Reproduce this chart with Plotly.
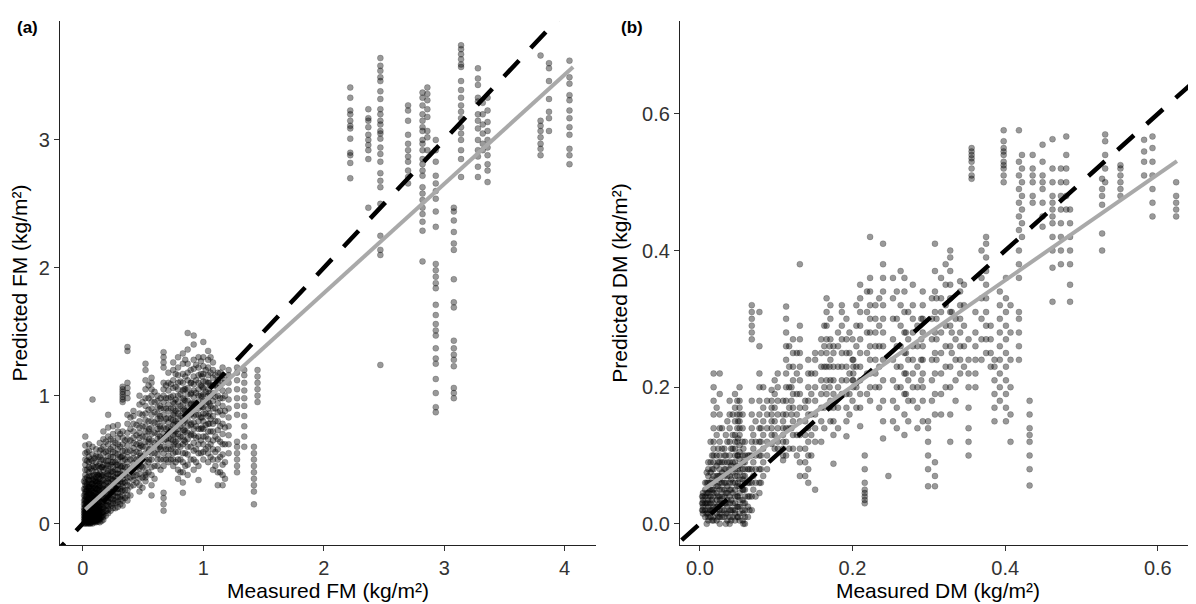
import plotly.graph_objects as go

# ---------------- Panel (a): fresh mass ----------------
fm_stripe_x = [0.02, 0.05, 0.08, 0.11, 0.14, 0.17, 0.21, 0.25, 0.29, 0.33, 0.37, 0.42, 0.47,
               0.52, 0.57, 0.62, 0.67, 0.71, 0.75, 0.79, 0.83, 0.87, 0.92, 0.96, 1.00, 1.04,
               1.08, 1.12, 1.16, 1.21, 1.28, 1.34, 1.42, 1.45,
               2.22, 2.37, 2.47, 2.70, 2.82, 2.86, 2.93, 3.08, 3.14, 3.28, 3.32, 3.36,
               3.80, 3.87, 4.04]
fm_stripe_y = [
    [0.00, 0.01, 0.02, 0.03, 0.03, 0.04, 0.05, 0.05, 0.06, 0.07, 0.08, 0.09, 0.10, 0.11, 0.13, 0.14,
     0.16, 0.18, 0.19, 0.21, 0.23, 0.25, 0.27, 0.30, 0.32, 0.35, 0.38, 0.42, 0.46, 0.50, 0.55, 0.61, 0.68],
    [0.00, 0.01, 0.02, 0.03, 0.04, 0.04, 0.05, 0.06, 0.07, 0.08, 0.09, 0.10, 0.12, 0.13, 0.15, 0.17,
     0.19, 0.22, 0.24, 0.26, 0.29, 0.31, 0.34, 0.37, 0.40, 0.44, 0.48, 0.52, 0.57, 0.62],
    [0.00, 0.02, 0.03, 0.04, 0.05, 0.06, 0.07, 0.08, 0.10, 0.11, 0.13, 0.15, 0.17, 0.20, 0.22, 0.25,
     0.28, 0.31, 0.34, 0.37, 0.41, 0.45, 0.49, 0.54, 0.60, 0.97],
    [0.01, 0.02, 0.03, 0.05, 0.06, 0.07, 0.09, 0.10, 0.12, 0.14, 0.16, 0.19, 0.21, 0.24, 0.27, 0.30,
     0.33, 0.36, 0.40, 0.44, 0.48, 0.53, 0.58],
    [0.01, 0.03, 0.04, 0.06, 0.08, 0.10, 0.12, 0.14, 0.17, 0.20, 0.23, 0.26, 0.29, 0.32, 0.35, 0.39,
     0.43, 0.47, 0.52, 0.57, 0.63],
    [0.03, 0.05, 0.07, 0.09, 0.12, 0.14, 0.17, 0.20, 0.23, 0.27, 0.30, 0.34, 0.38, 0.42, 0.46, 0.50,
     0.55, 0.60, 0.66, 0.72],
    [0.08, 0.11, 0.14, 0.17, 0.20, 0.23, 0.26, 0.29, 0.32, 0.35, 0.38, 0.41, 0.45, 0.49, 0.53, 0.57,
     0.62, 0.68, 0.75, 0.85],
    [0.12, 0.16, 0.19, 0.22, 0.25, 0.28, 0.31, 0.34, 0.37, 0.40, 0.44, 0.48, 0.52, 0.56, 0.60, 0.65,
     0.70, 0.76],
    [0.13, 0.17, 0.21, 0.24, 0.27, 0.30, 0.33, 0.36, 0.39, 0.42, 0.46, 0.50, 0.54, 0.58, 0.62, 0.67,
     0.72, 0.77],
    [0.14, 0.18, 0.22, 0.26, 0.29, 0.32, 0.35, 0.38, 0.41, 0.45, 0.49, 0.53, 0.57, 0.62, 0.67, 0.72,
     0.95, 0.97, 0.99, 1.01, 1.03, 1.05, 1.07],
    [0.18, 0.22, 0.26, 0.30, 0.33, 0.36, 0.40, 0.44, 0.48, 0.52, 0.56, 0.61, 0.66, 0.71, 0.78, 0.85,
     0.98, 1.02, 1.06, 1.10, 1.35, 1.38],
    [0.30, 0.34, 0.37, 0.40, 0.43, 0.47, 0.51, 0.55, 0.59, 0.63, 0.67, 0.72, 0.78, 0.84, 0.88],
    [0.25, 0.30, 0.35, 0.39, 0.43, 0.47, 0.51, 0.55, 0.59, 0.63, 0.67, 0.71, 0.75, 0.80, 0.86, 0.93, 1.00],
    [0.33, 0.36, 0.38, 0.40, 0.45, 0.50, 0.55, 0.60, 0.64, 0.68, 0.72, 0.76, 0.81, 0.86, 0.92, 0.98,
     1.05, 1.12, 1.20, 1.25],
    [0.22, 0.30, 0.38, 0.44, 0.50, 0.55, 0.60, 0.65, 0.70, 0.75, 0.80, 0.85, 0.90, 0.95, 1.00, 1.05,
     1.10, 1.14],
    [0.45, 0.50, 0.54, 0.58, 0.62, 0.66, 0.70, 0.74, 0.78, 0.82, 0.86, 0.91, 0.96, 1.00],
    [0.10, 0.15, 0.20, 0.24, 0.45, 0.50, 0.55, 0.60, 0.65, 0.70, 0.75, 0.80, 0.85, 0.90, 0.95, 1.00,
     1.05, 1.10, 1.22, 1.26, 1.30, 1.34],
    [0.48, 0.53, 0.58, 0.63, 0.67, 0.71, 0.75, 0.79, 0.83, 0.88, 0.93, 0.98, 1.04, 1.10, 1.18],
    [0.45, 0.50, 0.55, 0.60, 0.65, 0.69, 0.73, 0.77, 0.81, 0.85, 0.90, 0.95, 1.00, 1.06, 1.12, 1.20, 1.26],
    [0.35, 0.42, 0.50, 0.56, 0.61, 0.66, 0.70, 0.74, 0.78, 0.82, 0.86, 0.90, 0.95, 1.00, 1.05, 1.10,
     1.16, 1.22, 1.30],
    [0.24, 0.32, 0.40, 0.48, 0.55, 0.62, 0.68, 0.73, 0.78, 0.83, 0.88, 0.93, 0.98, 1.04, 1.10, 1.17,
     1.25, 1.33],
    [0.38, 0.46, 0.54, 0.60, 0.66, 0.71, 0.76, 0.81, 0.86, 0.91, 0.96, 1.01, 1.06, 1.12, 1.18, 1.25,
     1.36, 1.49],
    [0.42, 0.50, 0.57, 0.63, 0.69, 0.74, 0.79, 0.84, 0.89, 0.94, 0.99, 1.04, 1.09, 1.15, 1.21, 1.28,
     1.40, 1.47],
    [0.34, 0.45, 0.55, 0.62, 0.68, 0.74, 0.80, 0.85, 0.90, 0.95, 1.00, 1.05, 1.10, 1.16, 1.22, 1.30],
    [0.50, 0.56, 0.62, 0.68, 0.74, 0.80, 0.86, 0.91, 0.96, 1.01, 1.06, 1.11, 1.17, 1.23, 1.30, 1.42],
    [0.48, 0.55, 0.60, 0.66, 0.72, 0.78, 0.84, 0.90, 0.95, 1.00, 1.05, 1.10, 1.16, 1.22, 1.28, 1.35],
    [0.42, 0.50, 0.58, 0.65, 0.72, 0.78, 0.84, 0.90, 0.96, 1.02, 1.08, 1.14, 1.20, 1.26],
    [0.30, 0.40, 0.50, 0.58, 0.66, 0.73, 0.80, 0.87, 0.94, 1.00, 1.06, 1.12, 1.18],
    [0.30, 0.38, 0.46, 0.54, 0.62, 0.70, 0.78, 0.85, 0.92, 0.98, 1.04, 1.10, 1.16, 1.22],
    [0.55, 0.62, 0.69, 0.76, 0.83, 0.90, 0.97, 1.04, 1.10, 1.16, 1.20],
    [0.40, 0.45, 0.50, 0.55, 0.60, 0.64, 0.85, 0.92, 0.98, 1.05, 1.12, 1.18, 1.22],
    [0.60, 0.68, 0.76, 0.84, 0.92, 0.98, 1.04, 1.10, 1.16, 1.20],
    [0.15, 0.25, 0.30, 0.35, 0.40, 0.45, 0.50, 0.55, 0.60],
    [0.95, 1.00, 1.05, 1.10, 1.15, 1.20],
    [3.41, 3.33, 3.23, 3.20, 3.15, 3.11, 3.09, 3.01, 2.90, 2.88, 2.82, 2.70],
    [3.24, 3.17, 3.15, 3.10, 3.04, 3.00, 2.96, 2.92, 2.85, 2.47],
    [3.64, 3.58, 3.54, 3.49, 3.46, 3.38, 3.32, 3.24, 3.20, 3.15, 3.12, 3.07, 3.05, 3.01, 2.94, 2.89,
     2.83, 2.74, 2.68, 2.63, 2.50, 2.25, 2.14, 2.10, 1.24],
    [3.27, 3.23, 3.15, 3.04, 2.97, 2.92, 2.87, 2.83, 2.76, 2.71, 2.66],
    [3.37, 3.33, 3.27, 3.20, 3.15, 3.10, 3.07, 3.00, 2.97, 2.92, 2.85, 2.81, 2.76, 2.72, 2.63, 2.58,
     2.53, 2.47, 2.42, 2.36, 2.29, 2.05],
    [3.41, 3.36, 3.31, 3.24, 3.18, 3.07, 3.02, 2.92],
    [3.00, 2.92, 2.83, 2.72, 2.66, 2.60, 2.54, 2.44, 2.32, 2.03, 1.98, 1.93, 1.88, 1.84, 1.71, 1.63,
     1.56, 1.51, 1.47, 1.37, 1.29, 1.25, 1.13, 1.02, 0.91, 0.87],
    [2.47, 2.44, 2.37, 2.28, 2.19, 2.14, 1.91, 1.73, 1.69, 1.43, 1.37, 1.32, 1.28, 1.23, 1.06, 1.02, 0.98],
    [3.74, 3.71, 3.67, 3.63, 3.59, 3.57, 3.46, 3.39, 3.33, 3.27, 3.22, 3.17, 3.10, 3.05, 3.00, 2.92,
     2.85, 2.71],
    [3.56, 3.48, 3.43, 3.33, 3.30, 3.20, 3.15, 3.09, 3.00, 2.92, 2.87, 2.79, 2.71],
    [3.29, 3.20, 3.12, 3.05, 2.97, 2.92],
    [3.33, 3.23, 3.14, 3.07, 3.00, 2.94, 2.88, 2.81, 2.76, 2.67],
    [3.66, 3.15, 3.11, 3.07, 3.02, 2.97, 2.93, 2.88],
    [3.60, 3.56, 3.46, 3.32, 3.22, 3.17, 3.07],
    [3.62, 3.49, 3.44, 3.35, 3.31, 3.23, 3.17, 3.10, 3.04, 2.93, 2.88, 2.81],
]
# additional stripes read between the ones above in the dense low range
fm_stripe2_x = [0.035, 0.065, 0.095, 0.125, 0.155, 0.19, 0.23, 0.27, 0.31, 0.35, 0.395, 0.445,
                0.495, 0.545, 0.595, 0.645, 0.69, 0.73, 0.77, 0.81, 0.85, 0.895, 0.94, 0.98,
                1.02, 1.06, 1.10, 1.14, 1.18]
fm_stripe2_y = [
    [0.00, 0.015, 0.025, 0.035, 0.045, 0.055, 0.065, 0.075, 0.085, 0.10, 0.12, 0.15, 0.18, 0.22, 0.26,
     0.31, 0.36, 0.42, 0.49, 0.56],
    [0.005, 0.015, 0.03, 0.045, 0.06, 0.075, 0.09, 0.11, 0.13, 0.16, 0.19, 0.23, 0.27, 0.32, 0.37, 0.43, 0.50],
    [0.01, 0.025, 0.04, 0.055, 0.07, 0.09, 0.11, 0.14, 0.17, 0.20, 0.24, 0.28, 0.33, 0.38, 0.44, 0.51],
    [0.015, 0.035, 0.055, 0.075, 0.10, 0.13, 0.16, 0.20, 0.24, 0.28, 0.33, 0.38, 0.45, 0.52],
    [0.02, 0.05, 0.08, 0.11, 0.15, 0.19, 0.23, 0.28, 0.33, 0.38, 0.44, 0.50, 0.58],
    [0.06, 0.10, 0.14, 0.18, 0.22, 0.27, 0.32, 0.37, 0.43, 0.49, 0.56, 0.64],
    [0.10, 0.15, 0.20, 0.25, 0.30, 0.35, 0.40, 0.46, 0.52, 0.58, 0.66],
    [0.12, 0.18, 0.24, 0.30, 0.36, 0.42, 0.48, 0.55, 0.63],
    [0.15, 0.21, 0.27, 0.33, 0.39, 0.45, 0.52, 0.60, 0.70],
    [0.20, 0.26, 0.32, 0.38, 0.44, 0.50, 0.57, 0.65],
    [0.22, 0.29, 0.36, 0.43, 0.50, 0.57, 0.65, 0.74, 0.83],
    [0.32, 0.38, 0.44, 0.50, 0.56, 0.62, 0.69, 0.77],
    [0.28, 0.36, 0.44, 0.52, 0.60, 0.68, 0.76, 0.85, 0.95],
    [0.40, 0.48, 0.56, 0.64, 0.72, 0.80, 0.89, 0.98, 1.08],
    [0.35, 0.45, 0.55, 0.63, 0.71, 0.79, 0.87, 0.95, 1.03],
    [0.42, 0.50, 0.58, 0.66, 0.74, 0.82, 0.90, 0.98],
    [0.50, 0.58, 0.66, 0.74, 0.82, 0.90, 0.98, 1.08],
    [0.50, 0.58, 0.66, 0.74, 0.82, 0.90, 0.99, 1.09],
    [0.48, 0.56, 0.64, 0.72, 0.80, 0.88, 0.97, 1.07, 1.17],
    [0.40, 0.50, 0.60, 0.68, 0.76, 0.84, 0.92, 1.01, 1.11],
    [0.45, 0.55, 0.64, 0.72, 0.80, 0.88, 0.96, 1.05, 1.15, 1.28],
    [0.50, 0.60, 0.69, 0.77, 0.85, 0.93, 1.01, 1.10, 1.20],
    [0.48, 0.58, 0.67, 0.76, 0.85, 0.94, 1.02, 1.12, 1.24],
    [0.55, 0.65, 0.74, 0.83, 0.92, 1.00, 1.08, 1.17, 1.27],
    [0.58, 0.68, 0.77, 0.86, 0.95, 1.03, 1.11, 1.20],
    [0.52, 0.62, 0.72, 0.82, 0.92, 1.00, 1.08, 1.18, 1.30],
    [0.45, 0.56, 0.68, 0.80, 0.90, 0.99, 1.08, 1.16],
    [0.40, 0.52, 0.64, 0.76, 0.88, 0.98, 1.08, 1.18],
    [0.35, 0.48, 0.62, 0.75, 0.88, 1.00, 1.12],
]
# further points where the reference cloud is solid black
fm_stripe3_x = [0.01, 0.03, 0.045, 0.06, 0.075, 0.09, 0.105, 0.12, 0.135, 0.16, 0.20, 0.24, 0.28,
                0.32, 0.48, 0.55, 0.64, 0.76, 0.84, 0.90, 0.99, 1.05]
fm_stripe3_y = [
    [0.00, 0.02, 0.04, 0.06, 0.08, 0.10, 0.12, 0.15, 0.18, 0.22, 0.27, 0.33],
    [0.005, 0.025, 0.045, 0.065, 0.085, 0.11, 0.14, 0.17, 0.21, 0.25, 0.29],
    [0.01, 0.03, 0.05, 0.07, 0.09, 0.12, 0.15, 0.19, 0.23, 0.28, 0.34],
    [0.00, 0.02, 0.04, 0.06, 0.08, 0.10, 0.13, 0.16, 0.20, 0.24, 0.29],
    [0.01, 0.03, 0.05, 0.07, 0.09, 0.12, 0.15, 0.18, 0.22, 0.26, 0.31],
    [0.02, 0.04, 0.06, 0.08, 0.10, 0.13, 0.16, 0.20, 0.24, 0.29, 0.35],
    [0.02, 0.04, 0.06, 0.09, 0.12, 0.15, 0.19, 0.23, 0.28, 0.33],
    [0.03, 0.05, 0.08, 0.11, 0.14, 0.18, 0.22, 0.27, 0.32, 0.38],
    [0.04, 0.07, 0.10, 0.13, 0.17, 0.21, 0.26, 0.31, 0.37],
    [0.06, 0.09, 0.13, 0.17, 0.21, 0.26, 0.31, 0.37, 0.44],
    [0.10, 0.14, 0.18, 0.23, 0.28, 0.33, 0.39, 0.46],
    [0.14, 0.19, 0.24, 0.29, 0.35, 0.41, 0.48],
    [0.16, 0.21, 0.27, 0.33, 0.39, 0.46],
    [0.19, 0.25, 0.31, 0.37, 0.44, 0.52],
    [0.45, 0.53, 0.61],
    [0.50, 0.58, 0.66, 0.74],
    [0.60, 0.68, 0.76, 0.84, 0.92],
    [0.62, 0.70, 0.78, 0.86, 0.94],
    [0.65, 0.73, 0.81, 0.89, 0.97, 1.05],
    [0.70, 0.78, 0.86, 0.94, 1.02, 1.10],
    [0.75, 0.83, 0.91, 0.99, 1.07, 1.15],
    [0.78, 0.86, 0.94, 1.02, 1.10],
]
fm_fit_x = [0.02, 4.07]
fm_fit_y = [0.11, 3.57]
fm_one_to_one = [-0.5, 4.5]

# ---------------- Panel (b): dry mass ----------------
dm_stripe_x = [0.004, 0.011, 0.018, 0.026, 0.032, 0.039, 0.046, 0.052, 0.059, 0.068, 0.078, 0.083,
               0.094, 0.102, 0.109, 0.113, 0.122, 0.131, 0.138, 0.142, 0.151, 0.159, 0.166, 0.175,
               0.186, 0.192, 0.201, 0.210, 0.216, 0.223, 0.230, 0.240, 0.247, 0.253, 0.268, 0.279,
               0.292, 0.299, 0.308, 0.316, 0.328, 0.341, 0.352, 0.356, 0.361, 0.375, 0.386, 0.393,
               0.398, 0.401, 0.418, 0.422, 0.432, 0.436, 0.449, 0.462, 0.473, 0.480, 0.485, 0.527,
               0.531, 0.551, 0.582, 0.593, 0.624]
dm_stripe_y = [
    [0.015, 0.02, 0.025, 0.03, 0.035, 0.04, 0.045],
    [0.005, 0.01, 0.015, 0.02, 0.025, 0.03, 0.035, 0.04, 0.045, 0.05, 0.06, 0.07, 0.08, 0.09],
    [0.005, 0.01, 0.02, 0.025, 0.03, 0.04, 0.045, 0.05, 0.06, 0.07, 0.08, 0.09, 0.10, 0.11, 0.12,
     0.14, 0.16, 0.18, 0.20, 0.22],
    [0.00, 0.01, 0.015, 0.02, 0.03, 0.035, 0.04, 0.05, 0.06, 0.065, 0.07, 0.08, 0.09, 0.10, 0.12,
     0.14, 0.16, 0.19, 0.22],
    [0.01, 0.02, 0.03, 0.04, 0.05, 0.06, 0.07, 0.08, 0.09, 0.10, 0.11],
    [0.00, 0.01, 0.02, 0.03, 0.04, 0.05, 0.06, 0.07, 0.08, 0.09, 0.10, 0.12, 0.14, 0.16, 0.18],
    [0.005, 0.015, 0.02, 0.03, 0.04, 0.05, 0.06, 0.07, 0.08, 0.09, 0.10, 0.11, 0.12, 0.13, 0.15, 0.17, 0.19],
    [0.005, 0.015, 0.025, 0.035, 0.045, 0.055, 0.065, 0.075, 0.085, 0.095, 0.105, 0.115, 0.13, 0.14,
     0.15, 0.16, 0.17, 0.18, 0.20],
    [0.00, 0.01, 0.02, 0.03, 0.04, 0.05, 0.06, 0.07, 0.08, 0.09, 0.10, 0.12],
    [0.02, 0.04, 0.06, 0.08, 0.10, 0.12, 0.14, 0.16, 0.18, 0.27, 0.28, 0.29, 0.30, 0.31, 0.32],
    [0.045, 0.06, 0.08, 0.10, 0.12, 0.14, 0.16, 0.18, 0.20, 0.22, 0.26, 0.31],
    [0.07, 0.09, 0.11, 0.13, 0.15, 0.17, 0.20],
    [0.117, 0.13, 0.14, 0.15, 0.16, 0.17, 0.18, 0.196],
    [0.11, 0.12, 0.14, 0.16, 0.18, 0.20, 0.22],
    [0.093, 0.10, 0.11, 0.12, 0.13, 0.14, 0.15, 0.16, 0.18],
    [0.10, 0.12, 0.14, 0.16, 0.18, 0.20, 0.22, 0.24, 0.26, 0.28, 0.30, 0.318],
    [0.11, 0.13, 0.15, 0.17, 0.19, 0.21, 0.23, 0.25, 0.27],
    [0.07, 0.09, 0.11, 0.13, 0.15, 0.17, 0.19, 0.21, 0.23, 0.25, 0.27, 0.29, 0.38],
    [0.07, 0.09, 0.11, 0.13, 0.15, 0.17, 0.18],
    [0.06, 0.08, 0.10, 0.12, 0.14, 0.16, 0.18, 0.20, 0.22, 0.24],
    [0.05, 0.12, 0.14, 0.16, 0.18, 0.20, 0.22, 0.24, 0.25],
    [0.12, 0.15, 0.17, 0.19, 0.21, 0.23, 0.25, 0.27],
    [0.19, 0.21, 0.23, 0.25, 0.27, 0.29, 0.31, 0.33],
    [0.088, 0.13, 0.15, 0.17, 0.19, 0.21, 0.23, 0.25, 0.26],
    [0.19, 0.21, 0.23, 0.25, 0.27, 0.29, 0.31, 0.32],
    [0.128, 0.15, 0.17, 0.19, 0.21, 0.23, 0.25, 0.27, 0.30],
    [0.20, 0.21, 0.22, 0.23, 0.24],
    [0.143, 0.17, 0.19, 0.21, 0.23, 0.25, 0.27, 0.29, 0.31, 0.33, 0.35],
    [0.03, 0.035, 0.04, 0.045, 0.05, 0.06, 0.08, 0.10],
    [0.18, 0.20, 0.22, 0.24, 0.26, 0.28, 0.30, 0.32, 0.34, 0.36, 0.42],
    [0.20, 0.22, 0.24, 0.26, 0.28, 0.30, 0.32],
    [0.125, 0.15, 0.18, 0.21, 0.24, 0.26, 0.28, 0.30, 0.32, 0.34, 0.36, 0.38, 0.41],
    [0.07],
    [0.15, 0.18, 0.21, 0.24, 0.27, 0.30, 0.33, 0.36],
    [0.13, 0.16, 0.19, 0.22, 0.25, 0.28, 0.31, 0.34, 0.36],
    [0.18, 0.20, 0.22, 0.24, 0.26, 0.28, 0.30, 0.32, 0.35],
    [0.15, 0.18, 0.20, 0.22, 0.24, 0.26, 0.28, 0.30, 0.32, 0.34],
    [0.055, 0.08, 0.10, 0.12, 0.14, 0.15],
    [0.055, 0.07, 0.09, 0.16, 0.19, 0.22, 0.25, 0.28, 0.31, 0.34, 0.37, 0.41],
    [0.16, 0.19, 0.22, 0.25, 0.28, 0.31, 0.33, 0.36],
    [0.12, 0.16, 0.20, 0.23, 0.26, 0.29, 0.31, 0.33, 0.35, 0.37, 0.39, 0.40],
    [0.22, 0.24, 0.26, 0.28, 0.30, 0.32, 0.34, 0.355],
    [0.10, 0.12, 0.14, 0.17, 0.20, 0.22, 0.24, 0.27],
    [0.505, 0.51, 0.52, 0.53, 0.535, 0.54, 0.545, 0.55],
    [0.20, 0.22, 0.24, 0.26, 0.28, 0.31],
    [0.25, 0.27, 0.29, 0.31, 0.33, 0.35, 0.37, 0.39, 0.41, 0.42],
    [0.15, 0.17, 0.19, 0.21, 0.23, 0.24],
    [0.18, 0.20, 0.22, 0.24, 0.26, 0.28, 0.30, 0.32, 0.34],
    [0.50, 0.51, 0.52, 0.525, 0.53, 0.54, 0.545, 0.55, 0.56, 0.576],
    [0.15, 0.17, 0.19, 0.21, 0.23, 0.25, 0.27, 0.29, 0.31, 0.33, 0.36],
    [0.24, 0.26, 0.28, 0.30, 0.31, 0.36, 0.38, 0.40, 0.43, 0.45, 0.47, 0.49, 0.51, 0.53, 0.576],
    [0.42, 0.44, 0.46, 0.48, 0.50, 0.52, 0.54],
    [0.056, 0.08, 0.10, 0.12, 0.13, 0.14, 0.16, 0.18],
    [0.47, 0.48, 0.50, 0.51, 0.52, 0.54],
    [0.435, 0.45, 0.47, 0.49, 0.50, 0.51, 0.53, 0.555],
    [0.325, 0.375, 0.40, 0.42, 0.44, 0.45, 0.46, 0.47, 0.48, 0.50, 0.52, 0.563],
    [0.38, 0.40, 0.42, 0.44, 0.46, 0.48, 0.50, 0.52],
    [0.46, 0.48, 0.50, 0.52, 0.54, 0.567],
    [0.325, 0.35, 0.38, 0.40, 0.42, 0.44, 0.46],
    [0.40, 0.425, 0.467, 0.48, 0.49, 0.505],
    [0.50, 0.52, 0.54, 0.56, 0.57],
    [0.48, 0.49, 0.50, 0.51, 0.52, 0.525],
    [0.51, 0.53, 0.545, 0.562],
    [0.45, 0.47, 0.49, 0.51, 0.53, 0.55, 0.567],
    [0.45, 0.46, 0.47, 0.48, 0.50],
]
# additional stripes read between the ones above in the dense range
dm_stripe2_x = [0.007, 0.014, 0.022, 0.029, 0.036, 0.043, 0.049, 0.056, 0.063, 0.073, 0.088, 0.098,
                0.117, 0.127, 0.146, 0.163, 0.171, 0.181, 0.196, 0.205, 0.219, 0.235, 0.258, 0.263,
                0.273, 0.285, 0.304, 0.322, 0.335, 0.346, 0.369, 0.381, 0.407]
dm_stripe2_y = [
    [0.01, 0.02, 0.03, 0.04, 0.05, 0.06],
    [0.01, 0.02, 0.03, 0.04, 0.05, 0.06, 0.075, 0.09, 0.12],
    [0.005, 0.015, 0.025, 0.035, 0.045, 0.055, 0.07, 0.085, 0.10, 0.13, 0.17],
    [0.01, 0.02, 0.03, 0.04, 0.05, 0.06, 0.075, 0.09, 0.11, 0.14],
    [0.005, 0.015, 0.025, 0.035, 0.045, 0.055, 0.07, 0.09, 0.12, 0.15],
    [0.01, 0.02, 0.03, 0.045, 0.06, 0.075, 0.09, 0.11, 0.13, 0.16],
    [0.01, 0.025, 0.04, 0.055, 0.07, 0.085, 0.10, 0.12, 0.14, 0.16, 0.18],
    [0.005, 0.02, 0.035, 0.05, 0.065, 0.08, 0.10, 0.12, 0.14, 0.16],
    [0.01, 0.025, 0.04, 0.06, 0.08, 0.10],
    [0.04, 0.06, 0.08, 0.10, 0.12, 0.15],
    [0.08, 0.10, 0.12, 0.14, 0.16, 0.18],
    [0.11, 0.13, 0.15, 0.17, 0.19, 0.21],
    [0.11, 0.14, 0.17, 0.20, 0.23, 0.26],
    [0.10, 0.13, 0.16, 0.19, 0.22, 0.25],
    [0.10, 0.13, 0.16, 0.19, 0.22],
    [0.14, 0.17, 0.20, 0.23, 0.26, 0.29],
    [0.15, 0.18, 0.21, 0.24, 0.27, 0.30, 0.32],
    [0.14, 0.17, 0.20, 0.23, 0.26, 0.28],
    [0.16, 0.19, 0.22, 0.25, 0.28],
    [0.17, 0.20, 0.23, 0.26, 0.29, 0.32],
    [0.19, 0.22, 0.25, 0.28, 0.31, 0.34],
    [0.17, 0.20, 0.23, 0.26, 0.29, 0.33],
    [0.14, 0.17, 0.20, 0.23, 0.26, 0.30, 0.34],
    [0.20, 0.23, 0.26, 0.29, 0.32, 0.37],
    [0.15, 0.18, 0.21, 0.24, 0.27, 0.31],
    [0.14, 0.17, 0.20, 0.23, 0.26, 0.29],
    [0.18, 0.21, 0.24, 0.27, 0.30, 0.33],
    [0.20, 0.23, 0.26, 0.29, 0.32, 0.35, 0.38],
    [0.18, 0.21, 0.24, 0.27, 0.30],
    [0.23, 0.26, 0.29, 0.32, 0.35],
    [0.24, 0.27, 0.30, 0.33, 0.36, 0.40],
    [0.23, 0.25, 0.27, 0.29],
    [0.12, 0.16, 0.20, 0.24, 0.28, 0.32],
]
# further points where the reference cloud is darkest
dm_stripe3_x = [0.003, 0.009, 0.016, 0.024, 0.034, 0.041, 0.050, 0.057, 0.065, 0.070, 0.080,
                0.120, 0.170, 0.200, 0.270, 0.290, 0.310, 0.330]
dm_stripe3_y = [
    [0.02, 0.03, 0.04],
    [0.00, 0.015, 0.03, 0.045, 0.06, 0.075],
    [0.005, 0.02, 0.035, 0.05, 0.065, 0.08, 0.10],
    [0.01, 0.025, 0.04, 0.055, 0.07, 0.09, 0.11],
    [0.00, 0.015, 0.03, 0.045, 0.06, 0.08, 0.10, 0.13],
    [0.005, 0.02, 0.035, 0.05, 0.065, 0.085, 0.11],
    [0.01, 0.025, 0.04, 0.06, 0.08, 0.10, 0.125, 0.15],
    [0.00, 0.015, 0.03, 0.05, 0.07, 0.09, 0.11],
    [0.02, 0.04, 0.06, 0.08, 0.10],
    [0.05, 0.07, 0.09, 0.11, 0.13],
    [0.06, 0.08, 0.10, 0.12, 0.14],
    [0.14, 0.16, 0.18, 0.20],
    [0.17, 0.20, 0.23, 0.26],
    [0.18, 0.21, 0.24, 0.27],
    [0.19, 0.22, 0.25, 0.28],
    [0.21, 0.24, 0.27, 0.30],
    [0.24, 0.27, 0.30, 0.33],
    [0.25, 0.28, 0.31],
]
dm_fit_x = [0.006, 0.625]
dm_fit_y = [0.051, 0.531]
dm_one_to_one = [-0.1, 0.8]

fm_tick_vals = [0, 1, 2, 3, 4]
fm_y_tick_vals = [0, 1, 2, 3]
dm_tick_vals = [0.0, 0.2, 0.4, 0.6]


def expand(xs, ys):
    px, py = [], []
    for x, col in zip(xs, ys):
        for y in col:
            px.append(x)
            py.append(y)
    return px, py


fm_px, fm_py = expand(fm_stripe_x + fm_stripe2_x + fm_stripe3_x,
                      fm_stripe_y + fm_stripe2_y + fm_stripe3_y)
dm_px, dm_py = expand(dm_stripe_x + dm_stripe2_x + dm_stripe3_x,
                      dm_stripe_y + dm_stripe2_y + dm_stripe3_y)

point_marker = dict(size=6, color="rgba(0,0,0,0.40)",
                    line=dict(width=0.7, color="rgba(0,0,0,0.28)"))
dash_line = dict(color="black", width=4.5, dash="22px,17px")
fit_line = dict(color="#A9A9A9", width=4)

fig = go.Figure()
fig.add_trace(go.Scatter(x=fm_px, y=fm_py, mode="markers", marker=point_marker,
                         xaxis="x", yaxis="y", showlegend=False, hoverinfo="skip"))
fig.add_trace(go.Scatter(x=fm_one_to_one, y=fm_one_to_one, mode="lines", line=dash_line,
                         xaxis="x", yaxis="y", showlegend=False, hoverinfo="skip"))
fig.add_trace(go.Scatter(x=fm_fit_x, y=fm_fit_y, mode="lines", line=fit_line,
                         xaxis="x", yaxis="y", showlegend=False, hoverinfo="skip"))

fig.add_trace(go.Scatter(x=dm_px, y=dm_py, mode="markers", marker=point_marker,
                         xaxis="x2", yaxis="y2", showlegend=False, hoverinfo="skip"))
fig.add_trace(go.Scatter(x=dm_one_to_one, y=dm_one_to_one, mode="lines", line=dash_line,
                         xaxis="x2", yaxis="y2", showlegend=False, hoverinfo="skip"))
fig.add_trace(go.Scatter(x=dm_fit_x, y=dm_fit_y, mode="lines", line=fit_line,
                         xaxis="x2", yaxis="y2", showlegend=False, hoverinfo="skip"))

font_family = "Liberation Sans, Arial, sans-serif"
axis_common = dict(showline=True, linecolor="#222", linewidth=1.2, showgrid=False, zeroline=False,
                   ticks="outside", ticklen=5, tickwidth=1.1, tickcolor="#333",
                   tickfont=dict(family=font_family, size=20, color="#333"),
                   title_font=dict(family=font_family, size=21, color="black"))

# page body has an 8px default margin, so the figure is 8px smaller than the window
fig.update_layout(
    width=1188, height=596,
    margin=dict(l=52, r=0, t=13, b=59),
    paper_bgcolor="white", plot_bgcolor="white",
    xaxis=dict(domain=[0, 0.4718], range=[-0.19, 4.26], tickvals=fm_tick_vals,
               title=dict(text="Measured FM (kg/m²)", standoff=4), anchor="y", **axis_common),
    yaxis=dict(domain=[0, 1], range=[-0.168, 3.93], tickvals=fm_y_tick_vals,
               title=dict(text="Predicted FM (kg/m²)", standoff=8), anchor="x", **axis_common),
    xaxis2=dict(domain=[0.5458, 1], range=[-0.026, 0.65], tickvals=dm_tick_vals, tickformat=".1f",
                title=dict(text="Measured DM (kg/m²)", standoff=4), anchor="y2", **axis_common),
    yaxis2=dict(domain=[0, 1], range=[-0.031, 0.736], tickvals=dm_tick_vals, tickformat=".1f",
                title=dict(text="Predicted DM (kg/m²)", standoff=8), anchor="x2", **axis_common),
    annotations=[
        dict(text="<b>(a)</b>", xref="paper", yref="paper", x=-0.029, y=0.9885,
             xanchor="center", yanchor="middle", showarrow=False,
             font=dict(family=font_family, size=17, color="black")),
        dict(text="<b>(b)</b>", xref="paper", yref="paper", x=0.5035, y=0.9885,
             xanchor="center", yanchor="middle", showarrow=False,
             font=dict(family=font_family, size=17, color="black")),
    ],
)

fig.write_html("out.html")
